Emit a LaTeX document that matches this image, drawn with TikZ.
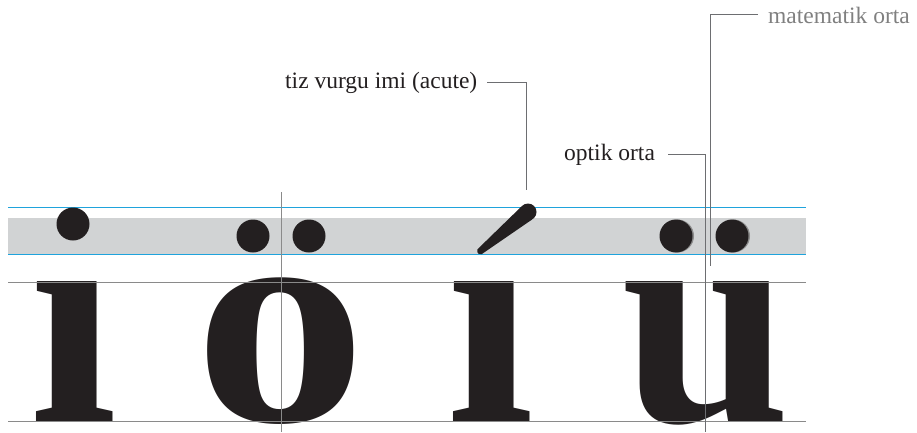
\documentclass[tikz,border=0pt]{standalone}
\usepackage{fontspec}
\setmainfont{Liberation Serif}
\definecolor{ink}{HTML}{231F20}
\definecolor{bandgray}{HTML}{D1D3D4}
\definecolor{guideblue}{HTML}{1FA3DC}
\definecolor{rulegray}{HTML}{8A8A8A}
\definecolor{leadgray}{HTML}{6D6E71}
\tikzstyle{glyph}=[font=\fontsize{305}{305}\selectfont\bfseries, text=ink, inner sep=0pt]
\tikzstyle{tittle}=[circle, fill=ink, minimum size=33pt, inner sep=0pt]
\tikzstyle{shade}=[circle, fill=black!45, minimum size=33pt, inner sep=0pt]
\tikzstyle{label}=[font=\fontsize{23.5}{23.5}\selectfont, text=ink, inner sep=0pt]
\tikzstyle{guide}=[guideblue, line width=1pt]
\tikzstyle{rule}=[rulegray, line width=1pt]
\tikzstyle{leader}=[leadgray, line width=1pt]

\begin{document}
\begin{tikzpicture}[x=1pt, y=-1pt]
	\useasboundingbox (0,0) rectangle (917,432);

	% Accent band
	\fill[bandgray] (8,218) rectangle (806,254);
	\draw[guide] (8,207) -- (806,207);
	\draw[guide] (8,254) -- (806,254);

	% Letters
	\node[glyph, anchor=base] (i1) at (74,421) {\scalebox{1.04}[1]{ı}};
	\node[glyph, anchor=base] (o) at (281,421) {\scalebox{1.13}[1]{o}};
	\node[glyph, anchor=base] (i2) at (491,421) {\scalebox{1.04}[1]{ı}};
	\node[glyph, anchor=base] (u) at (706,421) {u};

	% Diacritics
	\node[tittle] (dot) at (73,224) {};
	\foreach \x in {253, 309}{ \node[tittle] at (\x,236) {}; }
	\foreach \x in {677.5, 733.5}{ \node[shade] at (\x,236) {}; }
	\foreach \x in {676, 732}{ \node[tittle] at (\x,236) {}; }
	\fill[ink, rounded corners=2pt] (476,250.7) -- (522.6,205.4)
		-- (533.4,218.6) -- (480,255.3) -- cycle;
	\fill[ink] (528,212) circle[radius=8.5];

	% Guide rules
	\draw[rule] (8,282) -- (806,282);
	\draw[rule] (8,421) -- (806,421);
	\draw[rule] (281,192) -- (281,432);

	% Labels
	\node[label, anchor=base west] (acute) at (285,88) {tiz vurgu imi (acute)};
	\node[label, anchor=base west] (optik) at (564,160) {optik orta};
	\node[label, anchor=base west, text=black!50] (matem) at (768,23) {matematik orta};

	\coordinate (acutetip) at (526,190);
	\coordinate (optikfoot) at (705.7,432);
	\coordinate (matemfoot) at (710.7,266);

	\draw[leader] ([xshift=10pt]acute.east) -| (acutetip);
	\draw[leader] ([xshift=13pt]optik.east) -| (optikfoot);
	\draw[leader] ([xshift=-10pt]matem.west) -| (matemfoot);
\end{tikzpicture}
\end{document}
